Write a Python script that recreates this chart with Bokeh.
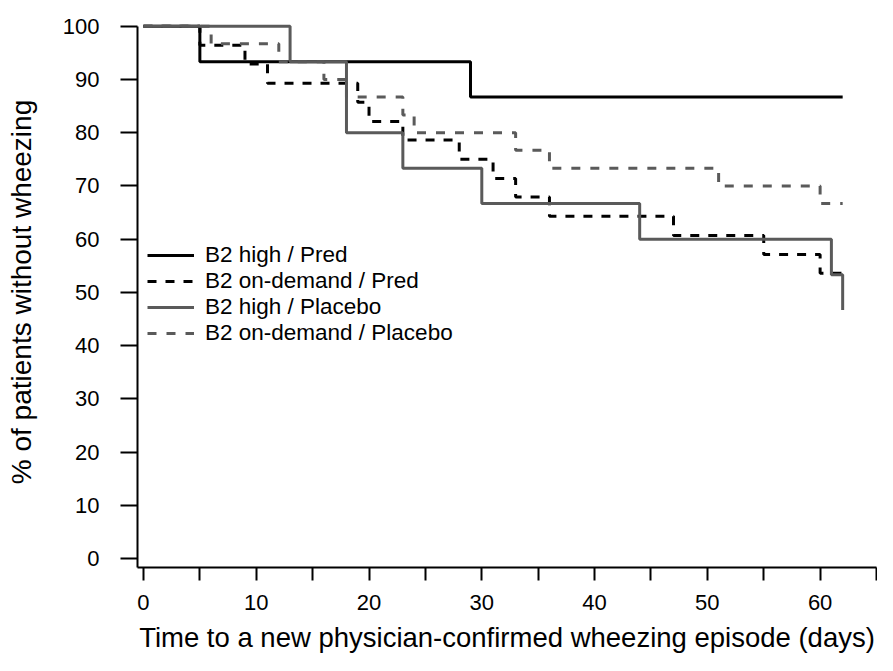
from bokeh.plotting import figure
from bokeh.models import Legend, LegendItem, FixedTicker, Range1d
from bokeh.embed import file_html
from bokeh.resources import INLINE

# ---- data ----
days_high_pred = [0, 5, 29, 62]
surv_high_pred = [100, 93.3, 86.7, 86.7]

days_od_pred = [0, 5, 9, 11, 19, 20, 23, 28, 31, 33, 36, 47, 55, 60, 62]
surv_od_pred = [100, 96.4, 92.9, 89.3, 85.7, 82.1, 78.6, 75.0, 71.4, 67.9, 64.3, 60.7, 57.1, 53.6, 53.6]

days_high_plac = [0, 13, 18, 23, 30, 44, 61, 62]
surv_high_plac = [100, 93.3, 80.0, 73.3, 66.7, 60.0, 53.3, 46.7]

days_od_plac = [0, 6, 12, 16, 18, 23, 24, 33, 36, 51, 60, 62]
surv_od_plac = [100, 96.7, 93.3, 90.0, 86.7, 83.3, 80.0, 76.7, 73.3, 70.0, 66.7, 66.7]

series_labels = ["B2 high / Pred", "B2 on-demand / Pred", "B2 high / Placebo", "B2 on-demand / Placebo"]

x_ticks = [0, 10, 20, 30, 40, 50, 60]
x_minor_ticks = [5, 15, 25, 35, 45, 55, 65]
y_ticks = [0, 10, 20, 30, 40, 50, 60, 70, 80, 90, 100]

x_title = "Time to a new physician-confirmed wheezing episode (days)"
y_title = "% of patients without wheezing"

FONT = "Liberation Sans"
GRAY = "#5a5a5a"

X0, X1 = -0.53, 65.0
Y0, Y1 = -1.68, 101.82

p = figure(width=877, height=655, output_backend="svg", toolbar_location=None,
           x_range=Range1d(X0, X1), y_range=Range1d(Y0, Y1),
           min_border_left=137, min_border_right=1, min_border_top=16, min_border_bottom=86)
p.outline_line_color = None
p.grid.visible = False
p.background_fill_color = "white"

p.xaxis.ticker = FixedTicker(ticks=x_ticks, minor_ticks=x_minor_ticks)
p.yaxis.ticker = FixedTicker(ticks=y_ticks)
p.yaxis.bounds = (Y0, 100)
p.xaxis.axis_label = x_title
p.yaxis.axis_label = y_title

for ax in (p.xaxis[0], p.yaxis[0]):
    ax.axis_line_width = 2
    ax.axis_line_color = "black"
    ax.major_tick_line_width = 2
    ax.minor_tick_line_width = 2
    ax.major_tick_in = 0
    ax.minor_tick_in = 0
    ax.major_label_text_font = FONT
    ax.major_label_text_font_size = "22px"
    ax.major_label_text_color = "black"
    ax.axis_label_text_font = FONT
    ax.axis_label_text_font_style = "normal"
    ax.axis_label_text_color = "black"

p.xaxis.axis_label_text_font_size = "27.5px"
p.yaxis.axis_label_text_font_size = "28px"
p.xaxis.major_tick_out = 13
p.xaxis.minor_tick_out = 13
p.yaxis.major_tick_out = 17
p.yaxis.minor_tick_line_color = None
p.xaxis.major_label_standoff = 14
p.yaxis.major_label_standoff = 21
p.xaxis.axis_label_standoff = 9
p.yaxis.axis_label_standoff = 23

r1 = p.step(days_high_pred, surv_high_pred, mode="after", line_color="black", line_width=3)
r2 = p.step(days_od_pred, surv_od_pred, mode="after", line_color="black", line_width=3, line_dash="9 9")
r3 = p.step(days_high_plac, surv_high_plac, mode="after", line_color=GRAY, line_width=3)
r4 = p.step(days_od_plac, surv_od_plac, mode="after", line_color=GRAY, line_width=3, line_dash="9 10")

legend = Legend(items=[LegendItem(label=series_labels[0], renderers=[r1]),
                       LegendItem(label=series_labels[1], renderers=[r2]),
                       LegendItem(label=series_labels[2], renderers=[r3]),
                       LegendItem(label=series_labels[3], renderers=[r4])],
                location=(10, 221), orientation="vertical",
                border_line_color=None, background_fill_alpha=0,
                padding=0, spacing=0, margin=0,
                glyph_width=47, glyph_height=26, label_height=26, label_standoff=11,
                label_text_font=FONT, label_text_font_size="22.5px", label_text_color="black")
p.add_layout(legend)

open("out.html", "w").write(file_html(p, INLINE))
